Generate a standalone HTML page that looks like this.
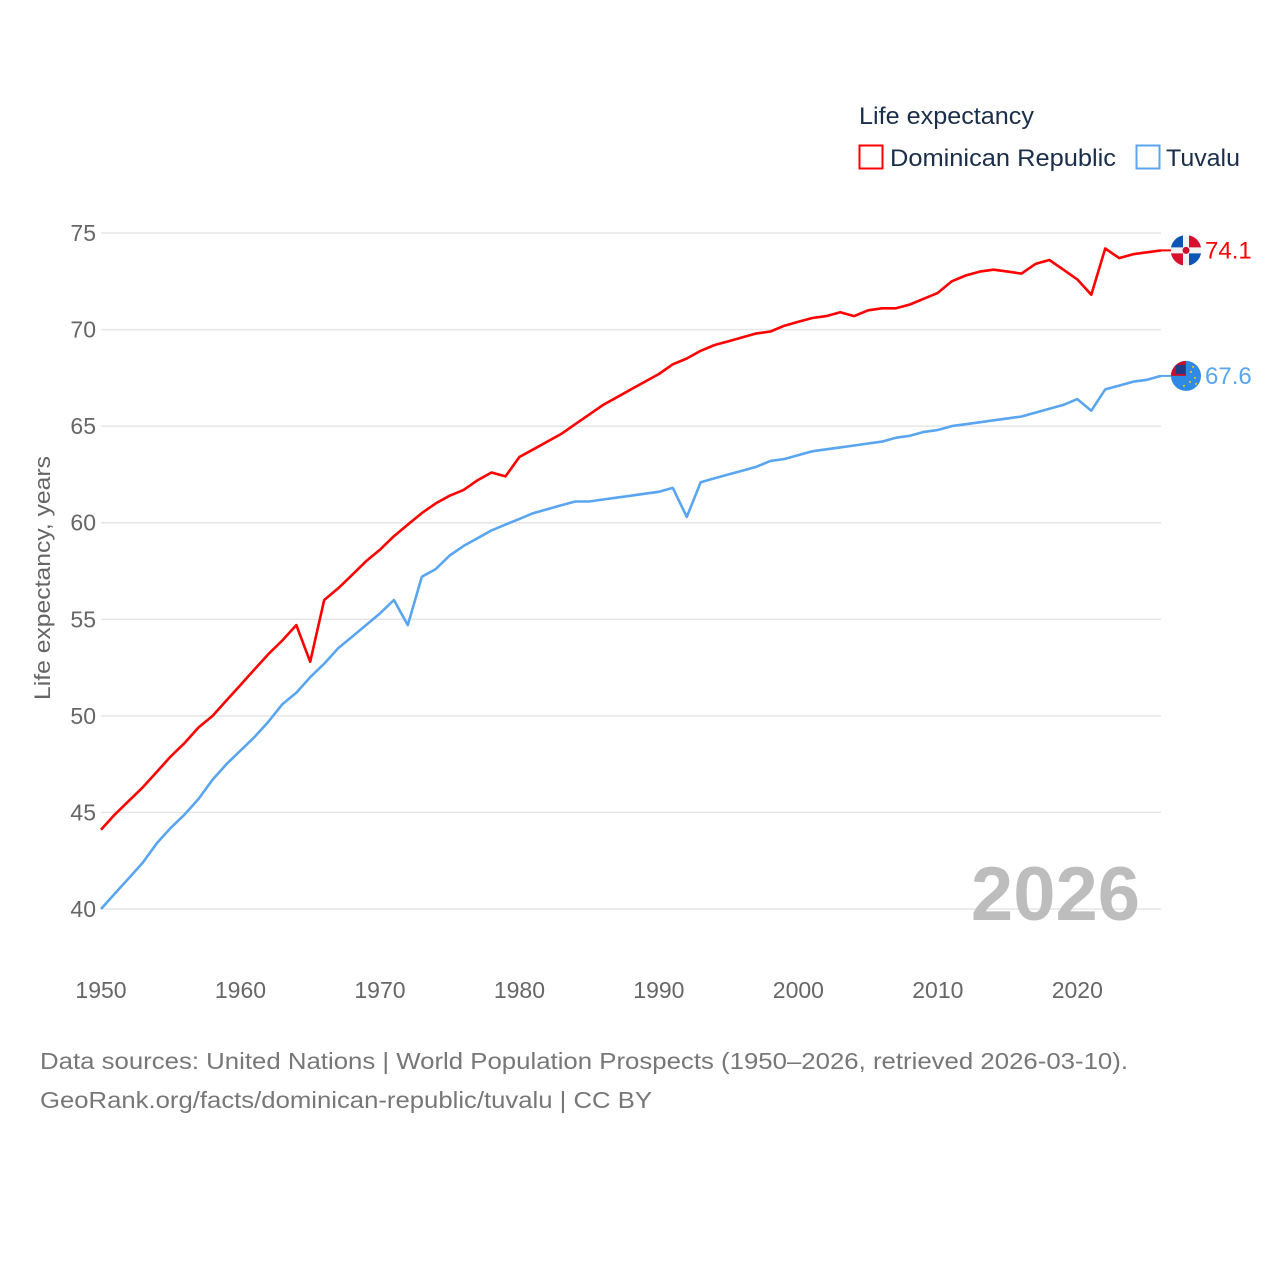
<!DOCTYPE html>
<html><head><meta charset="utf-8"><style>
html,body{margin:0;padding:0;background:#fff;}
body{width:1280px;height:1280px;overflow:hidden;font-family:"Liberation Sans",sans-serif;}
</style></head><body>
<svg id="chart" width="1280" height="1280" xmlns="http://www.w3.org/2000/svg" font-family="Liberation Sans, sans-serif">
<g id="grid"></g>
<g id="yticks"></g>
<g id="xticks"></g>
<text transform="translate(50,578) rotate(-90)" text-anchor="middle" font-size="22" fill="#666" textLength="244" lengthAdjust="spacingAndGlyphs">Life expectancy, years</text>
<text x="1140" y="920" text-anchor="end" font-size="76" font-weight="bold" fill="#bdbdbd">2026</text>
<g>
<text x="859" y="124" font-size="24" fill="#1a2e4a" textLength="175" lengthAdjust="spacingAndGlyphs">Life expectancy</text>
<g>
<rect x="859.5" y="145.5" width="23" height="23" fill="none" stroke="#ff0000" stroke-width="2"/>
<text x="890" y="166" font-size="24" fill="#1a2e4a" textLength="226" lengthAdjust="spacingAndGlyphs">Dominican Republic</text></g>
<g>
<rect x="1136.5" y="145.5" width="23" height="23" fill="none" stroke="#5aa5ef" stroke-width="2"/>
<text x="1166" y="166" font-size="24" fill="#1a2e4a" textLength="74" lengthAdjust="spacingAndGlyphs">Tuvalu</text></g>
</g>
<g id="series"></g>
<g id="ends"></g>
<text x="40" y="1069" font-size="23" fill="#777" textLength="1088" lengthAdjust="spacingAndGlyphs">Data sources: United Nations | World Population Prospects (1950–2026, retrieved 2026-03-10).</text>
<text x="40" y="1108" font-size="23" fill="#777" textLength="612" lengthAdjust="spacingAndGlyphs">GeoRank.org/facts/dominican-republic/tuvalu | CC BY</text>
</svg>
<script>
const years = [];
for (let y = 1950; y <= 2026; y++) years.push(y);
const yTicks = [40,45,50,55,60,65,70,75];
const xTicks = [1950,1960,1970,1980,1990,2000,2010,2020];
const domRep = [44.1,44.9,45.6,46.3,47.1,47.9,48.6,49.4,50.0,50.8,51.6,52.4,53.2,53.9,54.7,52.8,56.0,56.6,57.3,58.0,58.6,59.3,59.9,60.5,61.0,61.4,61.7,62.2,62.6,62.4,63.4,63.8,64.2,64.6,65.1,65.6,66.1,66.5,66.9,67.3,67.7,68.2,68.5,68.9,69.2,69.4,69.6,69.8,69.9,70.2,70.4,70.6,70.7,70.9,70.7,71.0,71.1,71.1,71.3,71.6,71.9,72.5,72.8,73.0,73.1,73.0,72.9,73.4,73.6,73.1,72.6,71.8,74.2,73.7,73.9,74.0,74.1];
const tuvalu = [40.0,40.8,41.6,42.4,43.4,44.2,44.9,45.7,46.7,47.5,48.2,48.9,49.7,50.6,51.2,52.0,52.7,53.5,54.1,54.7,55.3,56.0,54.7,57.2,57.6,58.3,58.8,59.2,59.6,59.9,60.2,60.5,60.7,60.9,61.1,61.1,61.2,61.3,61.4,61.5,61.6,61.8,60.3,62.1,62.3,62.5,62.7,62.9,63.2,63.3,63.5,63.7,63.8,63.9,64.0,64.1,64.2,64.4,64.5,64.7,64.8,65.0,65.1,65.2,65.3,65.4,65.5,65.7,65.9,66.1,66.4,65.8,66.9,67.1,67.3,67.4,67.6];
const NS = "http://www.w3.org/2000/svg";
const X0 = 101, X1 = 1161, Y0 = 909, Y1 = 233;
function xs(v){ return X0 + (v - 1950) / (2026 - 1950) * (X1 - X0); }
function ys(v){ return Y0 - (v - 40) / (75 - 40) * (Y0 - Y1); }
function mk(tag, attrs, parent){ const e = document.createElementNS(NS, tag); for (const k in attrs) e.setAttribute(k, attrs[k]); parent.appendChild(e); return e; }
const grid = document.getElementById('grid'), yt = document.getElementById('yticks'), xt = document.getElementById('xticks');
yTicks.forEach(t => {
  const l = mk('line', {x1: 101, x2: 1161, y1: ys(t), y2: ys(t), stroke: '#e6e6e6', 'stroke-width': 1.5}, grid);
  
  
  const tx = mk('text', {x: 96, y: ys(t) + 8, 'text-anchor': 'end', 'font-size': 23, fill: '#666'}, yt);
  tx.textContent = t;
  
  
});
xTicks.forEach(t => {
  const tx = mk('text', {x: xs(t), y: 998, 'text-anchor': 'middle', 'font-size': 23, fill: '#666'}, xt);
  tx.textContent = t;
  
  
});
const series = document.getElementById('series');
function line(vals, color, name){
  const d = vals.map((v, i) => (i ? 'L' : 'M') + xs(years[i]).toFixed(1) + ',' + ys(v).toFixed(1)).join('');
  const p = mk('path', {d: d, fill: 'none', stroke: color, 'stroke-width': 2.6, 'stroke-linejoin': 'round'}, series);
  
  
}
line(domRep, '#ff0000', 'line-dominican-republic');
line(tuvalu, '#5aa5ef', 'line-tuvalu');
const ends = document.getElementById('ends');
function endLabel(vals, color, name, flag){
  const v = vals[vals.length - 1], y = ys(v);
  const g = mk('g', {}, ends);
  
  
  mk('line', {x1: 1161, x2: 1172, y1: y, y2: y, stroke: color, 'stroke-width': 2}, g);
  flag(g, 1186, y);
  const t = mk('text', {x: 1205, y: y + 8, 'font-size': 24, fill: color}, g);
  t.textContent = v.toFixed(1);
}
endLabel(domRep, '#ff0000', 'end-label-dominican-republic', (g, cx, cy) => {
  mk('circle', {cx: cx, cy: cy, r: 15, fill: '#f2f2f2'}, g);
  mk('path', {d: `M${cx-15},${cy-3}A15,15 0 0 1 ${cx-3},${cy-15}L${cx-3},${cy-3}Z`, fill: '#0a55b5'}, g);
  mk('path', {d: `M${cx+3},${cy-15}A15,15 0 0 1 ${cx+15},${cy-3}L${cx+3},${cy-3}Z`, fill: '#d8102f'}, g);
  mk('path', {d: `M${cx-15},${cy+3}L${cx-3},${cy+3}L${cx-3},${cy+15}A15,15 0 0 1 ${cx-15},${cy+3}Z`, fill: '#d8102f'}, g);
  mk('path', {d: `M${cx+3},${cy+3}L${cx+15},${cy+3}A15,15 0 0 1 ${cx+3},${cy+15}Z`, fill: '#0a55b5'}, g);
  mk('circle', {cx: cx, cy: cy, r: 3.5, fill: '#c8102e'}, g);
});
endLabel(tuvalu, '#5aa5ef', 'end-label-tuvalu', (g, cx, cy) => {
  mk('circle', {cx: cx, cy: cy, r: 15, fill: '#2e8ae6'}, g);
  mk('path', {d: `M${cx-15},${cy}A15,15 0 0 1 ${cx},${cy-15}L${cx},${cy}Z`, fill: '#c8102e'}, g);
  mk('rect', {x: cx-10, y: cy-11, width: 9, height: 9, fill: '#1f3c88'}, g);
  [[5,-4],[9,2],[4,6],[10,8],[-2,10],[7,-9]].forEach(p => mk('circle', {cx: cx+p[0], cy: cy+p[1], r: 1, fill: '#f5d000'}, g));
});
</script>
</body></html>
